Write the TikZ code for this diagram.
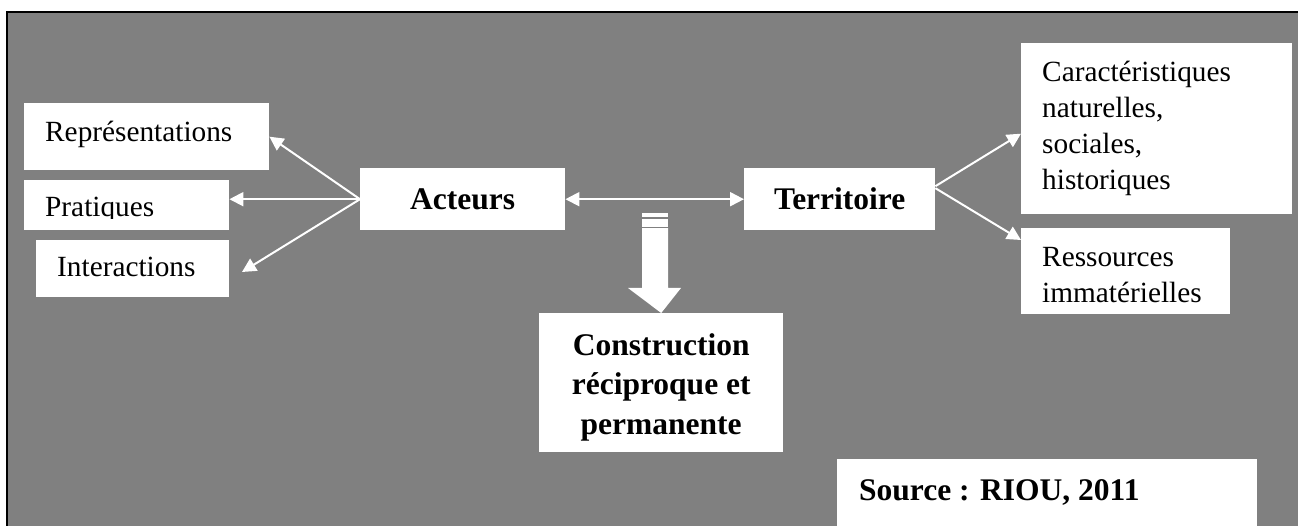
\documentclass[tikz,border=0pt]{standalone}
\usepackage{fontspec}
\setmainfont{Liberation Serif}
\usetikzlibrary{arrows.meta,calc}
\definecolor{bg}{RGB}{128,128,128}
\begin{document}
\begin{tikzpicture}[x=1pt,y=-1pt,
  box/.style={fill=white, draw=none, inner sep=0pt, anchor=north west},
  reg/.style={font=\fontsize{29.3pt}{36pt}\selectfont, inner sep=0pt, anchor=base west, align=left},
  bld/.style={font=\fontsize{31.5pt}{39.5pt}\selectfont\bfseries, inner sep=0pt},
  link/.style={draw=white, line width=2pt, -{Triangle[length=14pt,width=14pt]}},
  dlink/.style={draw=white, line width=2pt, {Triangle[length=14pt,width=14pt]}-{Triangle[length=14pt,width=14pt]}}
]
\useasboundingbox (0,0) rectangle (1298,526);
% background frame
\fill[bg] (7,12) rectangle (1310,540);
\draw[line width=2.5pt, line cap=rect] (7,540) -- (7,12) -- (1310,12);

% boxes
\node[box, minimum width=245pt, minimum height=67pt] (rep) at (24,103) {};
\node[box, minimum width=205pt, minimum height=50pt] (prat) at (24,180) {};
\node[box, minimum width=193pt, minimum height=57pt] (inter) at (36,240) {};
\node[box, minimum width=205pt, minimum height=62pt] (act) at (360,168) {};
\node[box, minimum width=191pt, minimum height=62pt] (ter) at (744,168) {};
\node[box, minimum width=271pt, minimum height=171pt] (car) at (1021,43) {};
\node[box, minimum width=209pt, minimum height=86pt] (res) at (1021,228) {};
\node[box, minimum width=244pt, minimum height=139pt] (cons) at (539,313) {};
\node[box, minimum width=420pt, minimum height=80pt] (src) at (837,459) {};

% texts (multi-line texts are placed by their last baseline)
\node[reg] at (45,142) {Représentations};
\begin{scope}
  \clip (24,180) rectangle (229,218.5);
  \node[reg] at (45,217) {Pratiques};
\end{scope}
\node[reg] at (57,277) {Interactions};
\node[bld, anchor=base] at (act.center |- 0,210) {Acteurs};
\node[bld, anchor=base] at (ter.center |- 0,210) {Territoire};
\node[reg] at (1042,190) {Caractéristiques\\naturelles,\\sociales,\\historiques};
\node[reg] at (1042,303) {Ressources\\immatérielles};
\node[bld, anchor=base, align=center] at (cons.north |- 0,434) {Construction\\réciproque et\\permanente};
\node[bld, anchor=base west] at (859,500) {Source : RIOU, 2011};

% connectors
\coordinate (ie) at (242,272);
\draw[link] (act.west) -- (rep.east);
\draw[link] (act.west) -- (prat.east |- act.west);
\draw[link] (act.west) -- (ie);
\draw[dlink] (act.east) -- (ter.west);
\draw[link] ($(ter.east)+(0,-13)$) -- ($(car.west)+(0,5)$);
\draw[link] ($(ter.east)+(0,-11)$) -- ($(res.north west)+(0,12)$);

% block arrow
\fill[white] (642,213) rectangle (668,217.3);
\fill[white] (642,218.8) rectangle (668,226.8);
\fill[white] (642,228.2) -- (668,228.2) -- (668,288) -- (681,288) -- (cons.north) -- (628,288) -- (642,288) -- cycle;
\end{tikzpicture}
\end{document}
